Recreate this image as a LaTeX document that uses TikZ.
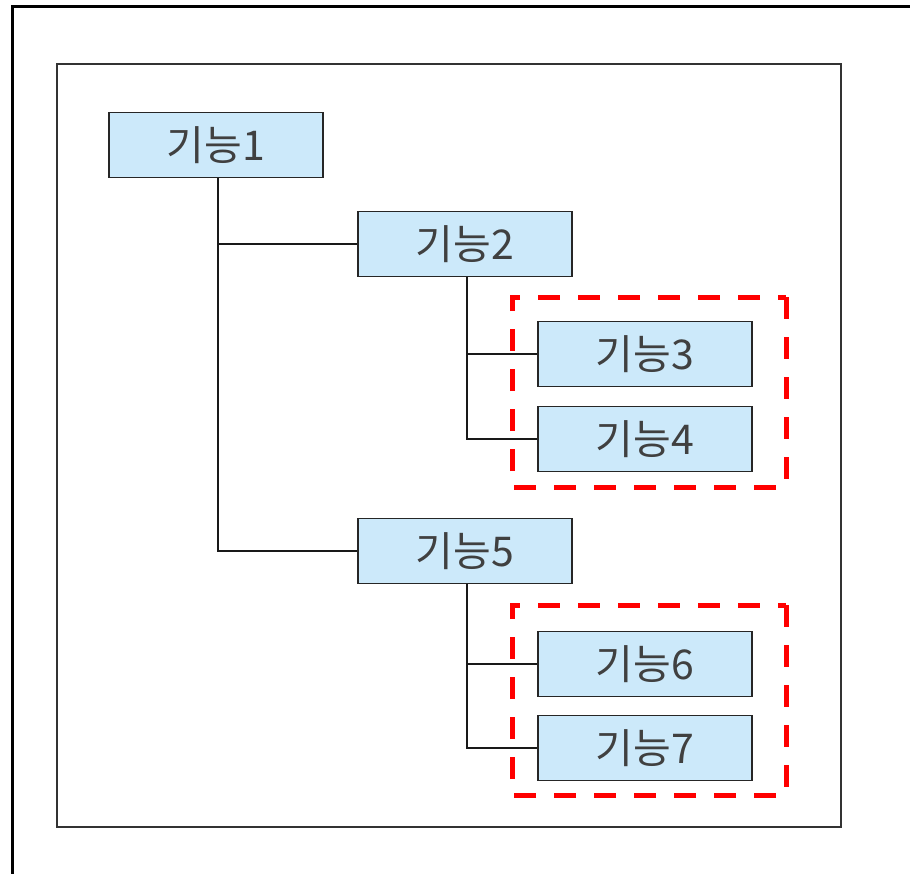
\documentclass[tikz,border=0pt]{standalone}
\usepackage{fontspec}
\newfontfamily\kfont{Noto Sans CJK KR}
\definecolor{boxfill}{HTML}{CCE9FA}
\definecolor{framegray}{HTML}{333333}
\definecolor{dashred}{HTML}{FF0000}
\begin{document}
\begin{tikzpicture}[x=1pt,y=-1pt,
  fn/.style={draw=black!85,line width=1.4pt,fill=boxfill,minimum width=214pt,minimum height=65pt,inner sep=0pt,font=\kfont\fontsize{41}{45}\selectfont,text=black!75},
  link/.style={draw=black!90,line width=1.4pt},
  grp/.style={draw=dashred,line width=5pt,dash pattern=on 22pt off 18pt},
]
\useasboundingbox (0,0) rectangle (910,873);
\clip (0,0) rectangle (910,873);
\fill[white] (0,0) rectangle (910,873);
% outer frame (right and bottom edges beyond the picture)
\draw[line width=3pt] (12,6) rectangle (930,900);
% inner frame
\draw[framegray,line width=2pt] (57,64) rectangle (841,827);
% nodes
\node[fn] (f1) at (216,145) {기능1};
\node[fn] (f2) at (465,244) {기능2};
\node[fn] (f3) at (645,354) {기능3};
\node[fn] (f4) at (645,439) {기능4};
\node[fn] (f5) at (465,551) {기능5};
\node[fn] (f6) at (645,664) {기능6};
\node[fn] (f7) at (645,748) {기능7};
% connectors
\coordinate (j1) at (218,244);
\coordinate (j2) at (218,551);
\coordinate (a2) at (467,354);
\coordinate (b2) at (467,439);
\coordinate (a5) at (467,664);
\coordinate (b5) at (467,748);
\draw[link] (f1.south -| j1) -- (j2) -- (f5.west);
\draw[link] (j1) -- (f2.west);
\draw[link] (f2.south -| a2) -- (b2) -- (f4.west);
\draw[link] (a2) -- (f3.west);
\draw[link] (f5.south -| a5) -- (b5) -- (f7.west);
\draw[link] (a5) -- (f6.west);
% groups
\draw[grp] (786,297) rectangle (512,487);
\draw[grp] (786,605) rectangle (512,795);
\end{tikzpicture}
\end{document}
